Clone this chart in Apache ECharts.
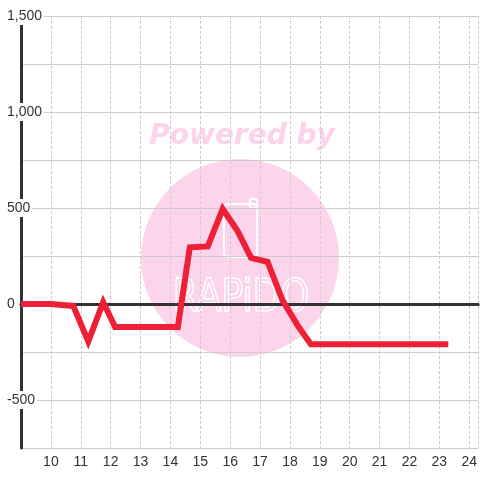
<!DOCTYPE html>
<html>
<head>
<meta charset="utf-8">
<script src="https://cdn.jsdelivr.net/npm/echarts@6/dist/echarts.min.js"></script>
<style>
  html, body { margin: 0; padding: 0; background: #fff; }
  #chart { width: 480px; height: 480px; }
</style>
</head>
<body>
<div id="chart"></div>
<script>
// hours of the day and value at each point
const hours = [9, 10, 10.75, 11.25, 11.75, 12.15, 14.25, 14.65, 15.25, 15.75, 16.25, 16.7, 17.25, 17.75, 18.25, 18.7, 23.3];
const values = [0, 0, -10, -195, 10, -120, -120, 295, 300, 495, 380, 240, 220, 20, -110, -210, -210];

const yMin = -750, yMax = 1500, yStep = 250, yLabelStep = 500;
const xMin = 9, xMax = 24.3;

const chart = echarts.init(document.getElementById('chart'), null, { renderer: 'canvas' });

const option = {
    backgroundColor: '#ffffff',
    animation: false,
    grid: { left: 21, right: 0, top: 16, bottom: 32 },
    graphic: [
        {
            type: 'group',
            z: -10,
            silent: true,
            children: [
                {
                    type: 'circle',
                    z: -10,
                    shape: { cx: 240, cy: 258, r: 99 },
                    style: { fill: '#fcd5ec' }
                },
                {
                    type: 'text',
                    z: -10,
                    style: {
                        text: 'Powered by',
                        x: 242, y: 137,
                        align: 'center', verticalAlign: 'middle',
                        fill: '#fbd3ea',
                        font: 'italic bold 28px "DejaVu Sans"'
                    }
                },
                {
                    type: 'rect',
                    z: -9,
                    shape: { x: 224, y: 204, width: 33, height: 53, r: 4 },
                    style: { fill: 'none', stroke: '#ffffff', lineWidth: 2 }
                },
                {
                    type: 'rect',
                    z: -9,
                    shape: { x: 250, y: 199, width: 7, height: 9, r: 2 },
                    style: { fill: 'none', stroke: '#ffffff', lineWidth: 2 }
                },
                {
                    type: 'text',
                    z: -9,
                    x: 241, y: 300,
                    scaleX: 0.92,
                    style: {
                        text: 'RAPiDO',
                        x: 0, y: 0,
                        align: 'center', verticalAlign: 'middle',
                        fill: 'none',
                        stroke: '#ffffff',
                        lineWidth: 1.5,
                        font: '44px "DejaVu Sans Condensed"'
                    }
                }
            ]
        }
    ],
    xAxis: [
        {
            type: 'value',
            min: xMin,
            max: xMax,
            interval: 1,
            axisLine: { show: false, onZero: false },
            axisTick: { show: false },
            axisLabel: {
                margin: 7,
                color: '#333',
                fontSize: 14,
                fontFamily: '"Liberation Sans", Arial, sans-serif',
                showMinLabel: false,
                showMaxLabel: false,
                formatter: (v) => Number.isInteger(v) ? String(v) : ''
            },
            splitLine: {
                show: true,
                lineStyle: { color: '#cccccc', width: 1, type: [3, 2] }
            }
        },
        {
            // second axis only for the thick line at zero
            type: 'value',
            min: xMin,
            max: xMax,
            axisLine: { show: true, onZero: true, lineStyle: { color: '#333', width: 3 } },
            axisTick: { show: false },
            axisLabel: { show: false },
            splitLine: { show: false }
        }
    ],
    yAxis: {
        type: 'value',
        min: yMin,
        max: yMax,
        interval: yStep,
        axisLine: { show: true, lineStyle: { color: '#333', width: 3 } },
        axisTick: { show: false },
        axisLabel: {
            align: 'left',
            margin: 16,
            padding: [2, 2, 2, 2],
            backgroundColor: '#ffffff',
            color: '#333',
            fontSize: 14,
            fontFamily: '"Liberation Sans", Arial, sans-serif',
            formatter: (v) => (v % yLabelStep === 0) ? v.toLocaleString('en-US') : ''
        },
        splitLine: {
            show: true,
            lineStyle: { color: '#cccccc', width: 1, type: 'solid' }
        }
    },
    series: [
        {
            type: 'line',
            xAxisIndex: 0,
            data: hours.map((h, i) => [h, values[i]]),
            showSymbol: false,
            z: 5,
            lineStyle: { color: '#ee1f36', width: 6, join: 'miter' }
        }
    ]
};

chart.setOption(option);
</script>
</body>
</html>
